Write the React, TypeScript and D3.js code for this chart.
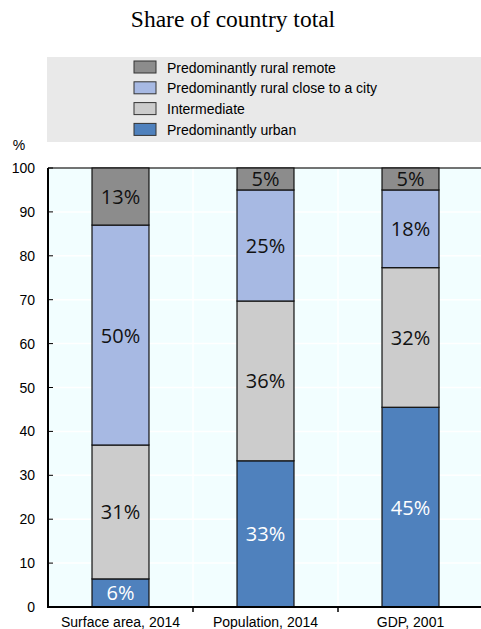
import React from "react";
import * as d3 from "d3";

const categories = ["Surface area, 2014", "Population, 2014", "GDP, 2001"];
const seriesNames = [
  "Predominantly urban",
  "Intermediate",
  "Predominantly rural close to a city",
  "Predominantly rural remote",
];
const urban = [6.4, 33.3, 45.5];
const intermediate = [30.5, 36.4, 31.8];
const ruralClose = [50.1, 25.3, 17.7];
const ruralRemote = [13.0, 5.0, 5.0];
const labelUrban = ["6%", "33%", "45%"];
const labelIntermediate = ["31%", "36%", "32%"];
const labelClose = ["50%", "25%", "18%"];
const labelRemote = ["13%", "5%", "5%"];
const yTicks = [0, 10, 20, 30, 40, 50, 60, 70, 80, 90, 100];

const colors = ["#4F81BD", "#CCCCCC", "#A7B9E3", "#8C8C8C"];
const textColors = ["#FFFFFF", "#111111", "#111111", "#111111"];

export default function App() {
  const W = 481, H = 629;
  const left = 48, right = 483, top = 168, bottom = 607;
  const x = d3.scaleBand<string>().domain(categories).range([left, right]).paddingInner(0.607).paddingOuter(0.3035);
  const y = d3.scaleLinear().domain([0, 100]).range([bottom, top]);
  const values = [urban, intermediate, ruralClose, ruralRemote];
  const labels = [labelUrban, labelIntermediate, labelClose, labelRemote];
  const rows = categories.map((c, i) => {
    const r: any = { cat: c };
    seriesNames.forEach((s, k) => (r[s] = values[k][i]));
    return r;
  });
  const stacked = d3.stack<any>().keys(seriesNames)(rows);
  const step = (right - left) / categories.length;
  const legendItems = [3, 2, 1, 0];
  const sans = "'Liberation Sans', Arial, sans-serif";
  return (
    <svg width={W} height={H} style={{ position: "absolute", left: 0, top: 0 }}>
      <text x={233} y={27} textAnchor="middle" fontFamily="'Liberation Serif', 'Times New Roman', serif" fontSize={23.5}>
        Share of country total
      </text>
      <rect x={47} y={57} width={434} height={85} fill="#E9E9E9" />
      {legendItems.map((k, j) => (
        <g key={k}>
          <rect x={134} y={61 + j * 20.8} width={22} height={12} fill={colors[k]} stroke="#333" strokeWidth={1} />
          <text x={167} y={72.5 + j * 20.8} fontFamily={sans} fontSize={14}>
            {seriesNames[k]}
          </text>
        </g>
      ))}
      <text x={19} y={150} textAnchor="middle" fontFamily={sans} fontSize={14}>%</text>
      <rect x={left} y={top} width={right - left} height={bottom - top} fill="#F2FEFF" />
      {yTicks.filter((t) => t > 0 && t < 100).map((t) => (
        <line key={t} x1={left} x2={right} y1={y(t)} y2={y(t)} stroke="#FFFFFF" strokeWidth={1.5} />
      ))}
      {categories.map((c, i) => (
        <line key={c} x1={left + step * (i + 1)} x2={left + step * (i + 1)} y1={top} y2={bottom} stroke="#FFFFFF" strokeWidth={1.5} />
      ))}
      <line x1={left} x2={right} y1={top} y2={top} stroke="#444" strokeWidth={1.5} />
      {stacked.map((layer, k) => (
        <g key={layer.key}>
          {layer.map((d, i) => (
            <g key={i}>
              <rect x={x(categories[i])} y={y(d[1])} width={x.bandwidth()} height={y(d[0]) - y(d[1])} fill={colors[k]} stroke="#111" strokeWidth={1.2} />
              <text x={(x(categories[i]) as number) + x.bandwidth() / 2} y={(y(d[0]) + y(d[1])) / 2 + 7.5} textAnchor="middle" fill={textColors[k]} fontFamily="'Open Sans', 'Noto Sans', sans-serif" fontSize={20}>
                {labels[k][i]}
              </text>
            </g>
          ))}
        </g>
      ))}
      <line x1={left} x2={left} y1={top} y2={bottom + 1} stroke="#000" strokeWidth={2} />
      <line x1={left - 1} x2={right} y1={bottom} y2={bottom} stroke="#000" strokeWidth={2} />
      {yTicks.map((t) => (
        <g key={t}>
          <line x1={left} x2={left + 5} y1={y(t)} y2={y(t)} stroke="#000" strokeWidth={1} />
          <text x={35} y={y(t) + 5} textAnchor="end" fontFamily={sans} fontSize={14}>{t}</text>
        </g>
      ))}
      {categories.map((c, i) => (
        <g key={c}>
          <line x1={left + step * (i + 1)} x2={left + step * (i + 1)} y1={bottom} y2={bottom + 5} stroke="#000" strokeWidth={1.5} />
          <text x={left + step * (i + 0.5)} y={627} textAnchor="middle" fontFamily={sans} fontSize={14}>{c}</text>
        </g>
      ))}
    </svg>
  );
}
